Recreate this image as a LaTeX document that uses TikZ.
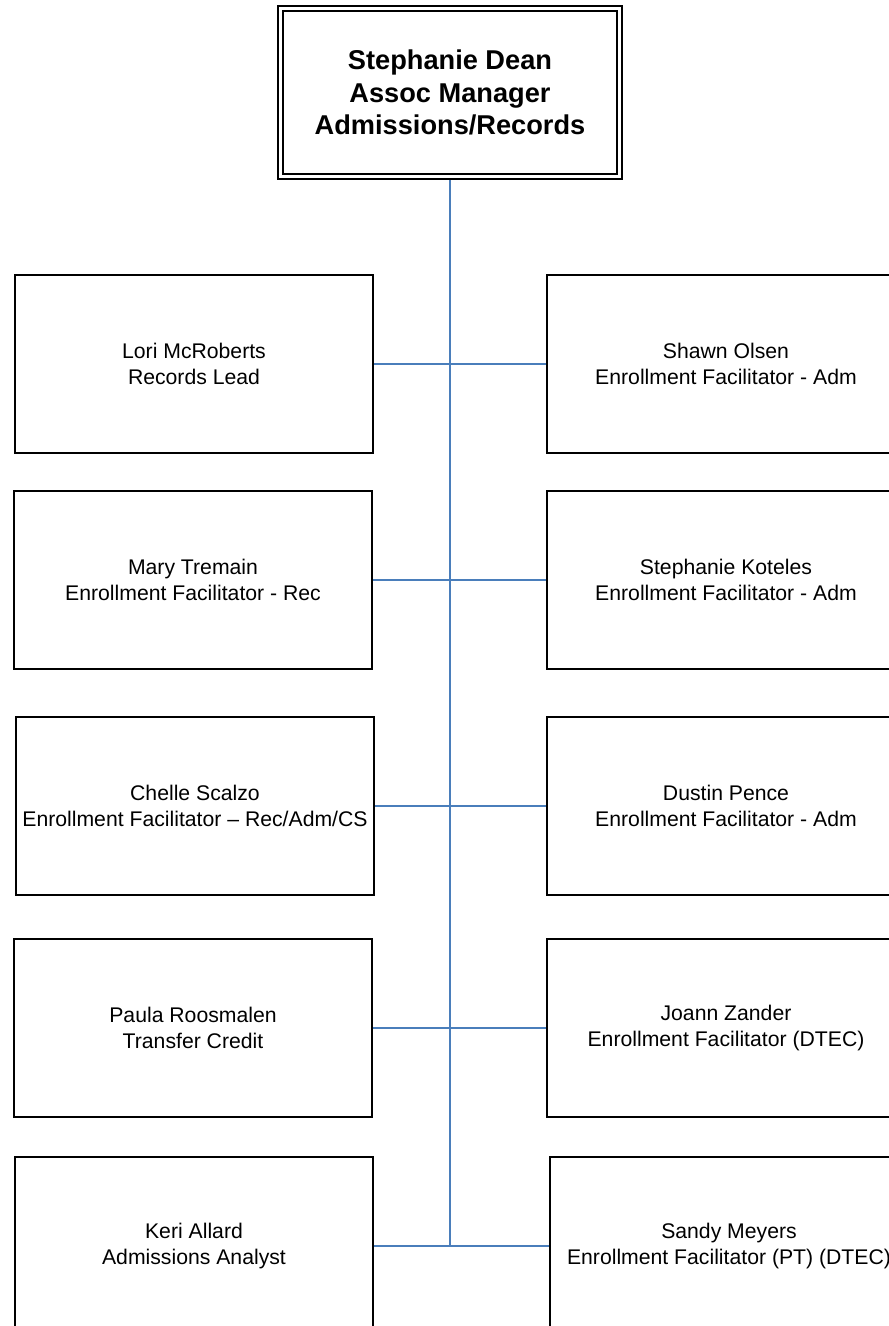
\documentclass[tikz,border=0pt]{standalone}
\usepackage{fontspec}
\setmainfont{Liberation Sans}
\usetikzlibrary{backgrounds}
\definecolor{linkblue}{RGB}{74,126,187}
\begin{document}
\begin{tikzpicture}[x=1pt,y=-1pt,
  pbox/.style={draw=black, line width=2pt, rectangle, minimum width=358pt, minimum height=178pt,
    align=center, inner sep=0pt, outer sep=0pt, font=\fontsize{21.2}{25.6}\selectfont},
  headbox/.style={draw=black, line width=1.8pt, double, double distance=3pt, rectangle,
    minimum width=339pt, minimum height=168pt, align=center, inner sep=0pt, outer sep=0pt,
    font=\bfseries\fontsize{27.2}{32.6}\selectfont},
  link/.style={draw=linkblue, line width=2pt}]
\useasboundingbox (0,0) rectangle (889,1326);
\clip (0,0) rectangle (889,1326);

\node[headbox] (top) at (450,92.5) {Stephanie Dean\\Assoc Manager\\Admissions/Records};

\node[pbox] (l1) at (194,364) {Lori McRoberts\\Records Lead};
\node[pbox] (r1) at (726,364) {Shawn Olsen\\Enrollment Facilitator - Adm};
\node[pbox] (l2) at (193,580) {Mary Tremain\\Enrollment Facilitator - Rec};
\node[pbox] (r2) at (726,580) {Stephanie Koteles\\Enrollment Facilitator - Adm};
\node[pbox] (l3) at (195,806) {Chelle Scalzo\\Enrollment Facilitator – Rec/Adm/CS};
\node[pbox] (r3) at (726,806) {Dustin Pence\\Enrollment Facilitator - Adm};
\node[pbox] (l4) at (193,1028) {Paula Roosmalen\\Transfer Credit};
\node[pbox] (r4) at (726,1028) {Joann Zander\\Enrollment Facilitator (DTEC)};
\node[pbox] (l5) at (194,1246) {Keri Allard\\Admissions Analyst};
\node[pbox] (r5) at (729,1246) {Sandy Meyers\\Enrollment Facilitator (PT) (DTEC)};

\begin{scope}[on background layer]
\coordinate (junc) at (top.south |- r5.west);
\draw[link] (top.south) -- (junc);
\draw[link] (l1.east) -- (r1.west);
\draw[link] (l2.east) -- (r2.west);
\draw[link] (l3.east) -- (r3.west);
\draw[link] (l4.east) -- (r4.west);
\draw[link] (l5.east) -- (r5.west);
\end{scope}
\end{tikzpicture}
\end{document}
